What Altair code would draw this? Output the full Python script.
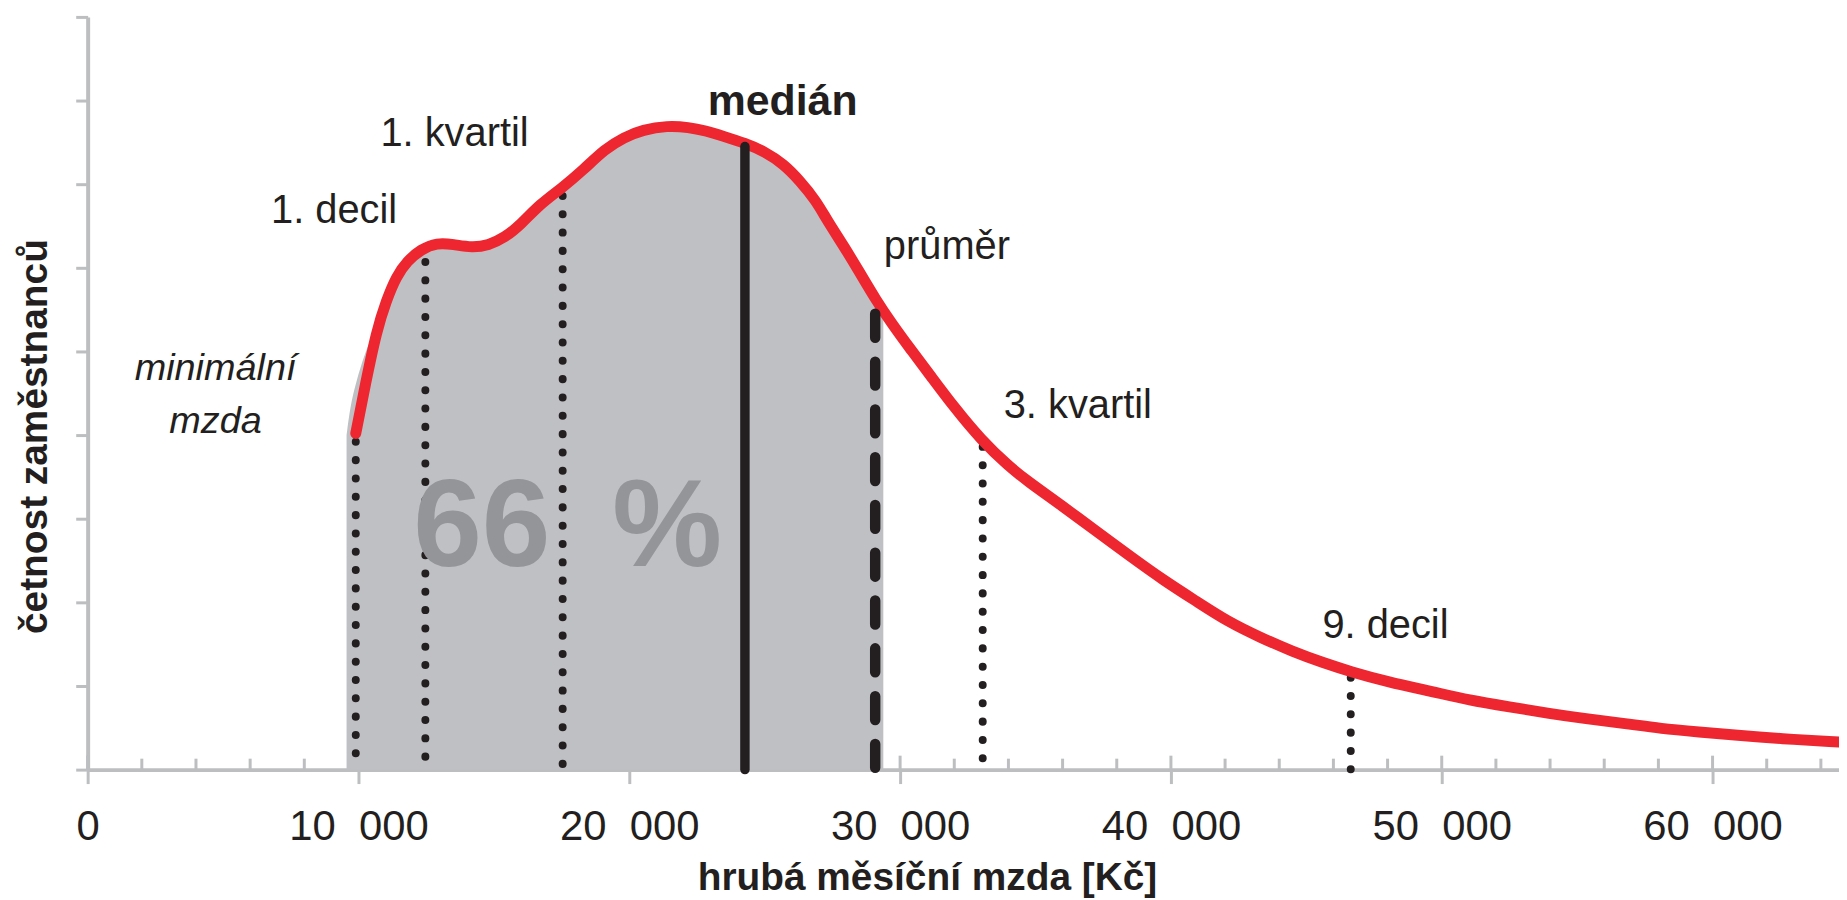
import altair as alt
import pandas as pd

# ---------------- data ----------------
curve_x = [9900, 10250, 10670, 11030, 11400, 11800, 12300, 12900, 13500, 14200,
           14800, 15400, 16000, 16700, 17500, 18300, 19100, 19800, 20500, 21400,
           22200, 22800, 23500, 24270, 25000, 25700, 26300, 26900, 27300, 27900,
           28500, 29100, 29700, 30400, 31100, 32000, 33000, 34000, 34700, 36000,
           37200, 38500, 39700, 41000, 42100, 43300, 44500, 45600, 46650, 48000,
           49700, 51000, 52500, 54000, 55300, 56800, 58100, 59500, 60900, 62500,
           64669]
curve_y = [4.02, 4.60, 5.25, 5.61, 5.90, 6.08, 6.22, 6.30, 6.28, 6.24,
           6.27, 6.36, 6.52, 6.76, 6.95, 7.17, 7.42, 7.56, 7.65, 7.70,
           7.68, 7.64, 7.57, 7.49, 7.39, 7.24, 7.04, 6.80, 6.57, 6.27,
           5.95, 5.62, 5.33, 5.02, 4.72, 4.33, 3.94, 3.63, 3.45, 3.15,
           2.86, 2.55, 2.27, 2.00, 1.77, 1.58, 1.41, 1.28, 1.17, 1.05,
           0.93, 0.83, 0.75, 0.67, 0.61, 0.55, 0.49, 0.45, 0.41, 0.37,
           0.33]

# grey band (66 % of employees) under the curve
gray_x = [9560, 9700, 9900, 10250, 10670, 11030, 11400, 11800, 12300, 12900,
          13500, 14200, 14800, 15400, 16000, 16700, 17500, 18300, 19100, 19800,
          20500, 21400, 22200, 22800, 23500, 24270, 25000, 25700, 26300, 26900,
          27300, 27900, 28500, 29100, 29380]
gray_y = [4.00, 4.35, 4.62, 5.00, 5.30, 5.61, 5.90, 6.06, 6.20, 6.30,
          6.28, 6.24, 6.27, 6.36, 6.52, 6.76, 6.95, 7.17, 7.42, 7.56,
          7.65, 7.70, 7.68, 7.64, 7.57, 7.49, 7.39, 7.24, 7.04, 6.80,
          6.57, 6.27, 5.95, 5.62, 5.47]

# dotted markers: minimal wage, 1st decile, 1st quartile, 3rd quartile, 9th decile
dotted_x = [9900, 12470, 17540, 33050, 46640]
dotted_top = [3.92, 6.07, 6.86, 3.86, 1.10]

median_x = [24270]
median_top = [7.45]
mean_x = [29080]
mean_top = [5.45]

x_tick_values = [0, 10000, 20000, 30000, 40000, 50000, 60000]
x_tick_labels = ["0", "10\u00a0\u00a0000", "20\u00a0\u00a0000", "30\u00a0\u00a0000",
                 "40\u00a0\u00a0000", "50\u00a0\u00a0000", "60\u00a0\u00a0000"]
minor_tick_values = [2000, 4000, 6000, 8000, 12000, 14000, 16000, 18000,
                     22000, 24000, 26000, 28000, 32000, 34000, 36000, 38000,
                     42000, 44000, 46000, 48000, 52000, 54000, 56000, 58000,
                     62000, 64000]
y_tick_values = [0, 1, 2, 3, 4, 5, 6, 7, 8, 9]

label_text = ["1. kvartil", "1. decil", "průměr", "3. kvartil", "9. decil"]
label_x = [13548, 9099, 31728, 36563, 47923]
label_y = [7.452, 6.536, 6.107, 4.202, 1.571]

bold_text = ["medián"]
bold_x = [25662]
bold_y = [7.833]

italic_text = ["minimální", "mzda"]
italic_x = [4724, 4724]
italic_y = [4.655, 4.024]

pct_text = ["66\u2002%"]
pct_x = [17720]
pct_y = [2.44]

# ---------------- styling ----------------
FONT = "Liberation Sans"
RED = "#ED2630"
GRAY = "#BFC0C3"
DARK = "#231F20"
AXC = "#BCBEC0"
PCT = "#939598"

W, H = 1759, 756

xs = alt.Scale(domain=[0, 64669], nice=False, zero=False)
ys = alt.Scale(domain=[0, 9], nice=False)

label_expr = " : ".join(
    f"datum.value == {v} ? '{l}'" for v, l in zip(x_tick_values, x_tick_labels)
) + " : ''"

xaxis = alt.Axis(
    values=x_tick_values, labelExpr=label_expr, grid=False,
    title="hrubá měsíční mzda [Kč]",
    domainColor=AXC, domainWidth=4, tickColor=AXC, tickWidth=3, tickSize=14,
    labelFont=FONT, labelFontSize=42, labelColor=DARK, labelPadding=56,
    labelBaseline="alphabetic", labelFlush=False, labelOverlap=False,
    titleFont=FONT, titleFontSize=39, titleFontWeight="bold", titleColor=DARK,
    titleX=843, titleY=120, titleAlign="center", titleBaseline="alphabetic",
)
yaxis = alt.Axis(
    values=y_tick_values, labels=False, grid=False,
    title="četnost zaměstnanců",
    domainColor=AXC, domainWidth=4, tickColor=AXC, tickWidth=3, tickSize=12,
    titleFont=FONT, titleFontSize=39, titleFontWeight="bold", titleColor=DARK,
    titleX=-41, titleY=421, titleAngle=270, titleAlign="center",
    titleBaseline="alphabetic",
)


def X(f):
    return alt.X(f, type="quantitative", scale=xs, axis=xaxis)


def Y(f):
    return alt.Y(f, type="quantitative", scale=ys, axis=yaxis)


curve_df = pd.DataFrame({"x": curve_x, "y": curve_y})
gray_df = pd.DataFrame({"x": gray_x, "y": gray_y})
dotted_df = pd.DataFrame({"x": dotted_x, "top": dotted_top, "bottom": [0] * len(dotted_x)})
median_df = pd.DataFrame({"x": median_x, "top": median_top, "bottom": [0]})
mean_df = pd.DataFrame({"x": mean_x, "top": mean_top, "bottom": [0]})
major_df = pd.DataFrame({"v": x_tick_values})
minor_df = pd.DataFrame({"v": minor_tick_values})
lab_df = pd.DataFrame({"t": label_text, "x": label_x, "y": label_y})
bold_df = pd.DataFrame({"t": bold_text, "x": bold_x, "y": bold_y})
ital_df = pd.DataFrame({"t": italic_text, "x": italic_x, "y": italic_y})
pct_df = pd.DataFrame({"t": pct_text, "x": pct_x, "y": pct_y})

major_up = alt.Chart(major_df).mark_rule(color=AXC, strokeWidth=3).encode(
    x=X("v"), y=alt.value(H), y2=alt.value(H - 14))
minor_up = alt.Chart(minor_df).mark_rule(color=AXC, strokeWidth=3).encode(
    x=X("v"), y=alt.value(H), y2=alt.value(H - 11))

area = alt.Chart(gray_df).mark_area(color=GRAY, interpolate="basis").encode(
    x=X("x"), y=Y("y"), y2=alt.value(H + 4))

dotted = alt.Chart(dotted_df).mark_rule(
    color=DARK, strokeWidth=8, strokeDash=[0.1, 18.3], strokeCap="round"
).encode(x=X("x"), y=Y("top"), y2=alt.Y2("bottom"))

pct = alt.Chart(pct_df).mark_text(
    font=FONT, fontSize=124, fontWeight="bold", color=PCT,
    align="center", baseline="alphabetic"
).encode(x=X("x"), y=Y("y"), text="t:N")

line = alt.Chart(curve_df).mark_line(
    color=RED, strokeWidth=11, interpolate="basis", strokeCap="round"
).encode(x=X("x"), y=Y("y"))

median = alt.Chart(median_df).mark_rule(
    color=DARK, strokeWidth=9.5, strokeCap="round"
).encode(x=X("x"), y=Y("top"), y2=alt.Y2("bottom"))

mean = alt.Chart(mean_df).mark_rule(
    color=DARK, strokeWidth=10.5, strokeDash=[24, 24], strokeCap="round"
).encode(x=X("x"), y=Y("top"), y2=alt.Y2("bottom"))

labels = alt.Chart(lab_df).mark_text(
    font=FONT, fontSize=40, color=DARK, align="center", baseline="alphabetic"
).encode(x=X("x"), y=Y("y"), text="t:N")

bold = alt.Chart(bold_df).mark_text(
    font=FONT, fontSize=43, fontWeight="bold", color=DARK,
    align="center", baseline="alphabetic"
).encode(x=X("x"), y=Y("y"), text="t:N")

ital = alt.Chart(ital_df).mark_text(
    font=FONT, fontSize=38, fontStyle="italic", color=DARK,
    align="center", baseline="alphabetic"
).encode(x=X("x"), y=Y("y"), text="t:N")

chart = alt.layer(
    major_up, minor_up, area, dotted, pct, line, median, mean, labels, bold, ital
).properties(
    width=W, height=H,
    padding={"left": 80, "top": 7, "right": 0, "bottom": 129},
    autosize=alt.AutoSizeParams(type="none"),
    background="white",
).configure_view(stroke=None)

chart.save("out.html", embed_options={"renderer": "svg", "actions": False})
